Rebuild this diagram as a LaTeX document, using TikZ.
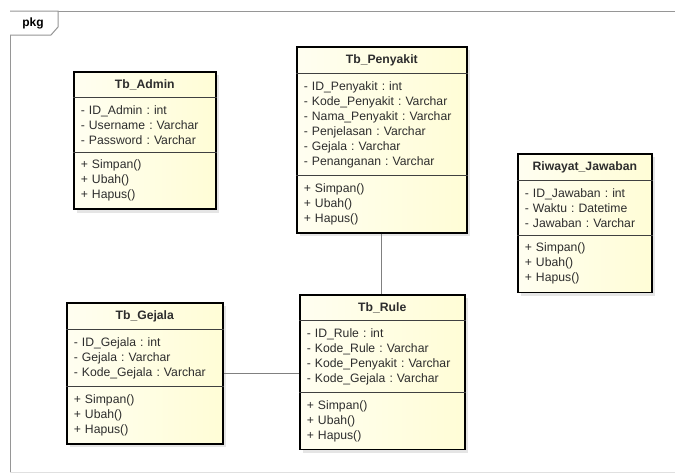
\documentclass[tikz,border=0pt]{standalone}
\usepackage{fontspec}
\setmainfont{Liberation Sans}
\usepackage{tikz}
\usetikzlibrary{shapes.multipart,shadows}

\definecolor{classfill}{RGB}{255,253,214}
\definecolor{framegray}{RGB}{150,150,150}
\definecolor{textgray}{RGB}{45,45,45}

\begin{document}
\frenchspacing
\begin{tikzpicture}[x=1pt, y=-1pt,
	every node/.style={font=\fontsize{12.2}{15}\selectfont, text=textgray},
	umlclass/.style={rectangle split, rectangle split parts=3, rectangle split draw splits=false,
		draw=black, line width=1.6pt, left color=classfill!35, right color=classfill,
		drop shadow={shadow xshift=3.5pt, shadow yshift=-3.5pt, fill=black!20},
		anchor=north west, align=left, inner xsep=7pt, inner ysep=7pt},
	splitline/.style={draw=black!75, line width=0.9pt},
	assoc/.style={draw=black!50, line width=1.3pt}]
	\useasboundingbox (0,0) rectangle (675,474);
	% package frame
	\draw[framegray, line width=1pt] (675,11) -- (10,11) -- (10,472);
	\draw[black!12, line width=1pt] (10,472) -- (675,472);
	\draw[framegray, line width=1pt, fill=white] (10,11) -- (58,11) -- (58,27) -- (51,35) -- (10,35);
	\node[font=\fontsize{12}{14}\selectfont\bfseries, text=black] (pkg) at (33,23) {pkg};

	\node[umlclass, text width=128pt] (admin) at (73,71) {\hfill\textbf{Tb\_Admin}\hfill\null
		\nodepart{second} - ID\_Admin : int\\ - Username : Varchar\\ - Password : Varchar
		\nodepart{third} + Simpan()\\ + Ubah()\\ + Hapus()};
	\node[umlclass, text width=156pt] (penyakit) at (296,46) {\hfill\textbf{Tb\_Penyakit}\hfill\null
		\nodepart{second} - ID\_Penyakit : int\\ - Kode\_Penyakit : Varchar\\ - Nama\_Penyakit : Varchar\\ - Penjelasan : Varchar\\ - Gejala : Varchar\\ - Penanganan : Varchar
		\nodepart{third} + Simpan()\\ + Ubah()\\ + Hapus()};
	\node[umlclass, text width=120pt] (riwayat) at (517,153) {\hfill\textbf{Riwayat\_Jawaban}\hfill\null
		\nodepart{second} - ID\_Jawaban : int\\ - Waktu : Datetime\\ - Jawaban : Varchar
		\nodepart{third} + Simpan()\\ + Ubah()\\ + Hapus()};
	\node[umlclass, text width=142pt] (gejala) at (66,302) {\hfill\textbf{Tb\_Gejala}\hfill\null
		\nodepart{second} - ID\_Gejala : int\\ - Gejala : Varchar\\ - Kode\_Gejala : Varchar
		\nodepart{third} + Simpan()\\ + Ubah()\\ + Hapus()};
	\node[umlclass, text width=151pt] (rule) at (299,294) {\hfill\textbf{Tb\_Rule}\hfill\null
		\nodepart{second} - ID\_Rule : int\\ - Kode\_Rule : Varchar\\ - Kode\_Penyakit : Varchar\\ - Kode\_Gejala : Varchar
		\nodepart{third} + Simpan()\\ + Ubah()\\ + Hapus()};

	\foreach \c in {admin,penyakit,riwayat,gejala,rule} {
		\draw[splitline] (\c.text split west) -- (\c.text split east);
		\draw[splitline] (\c.second split west) -- (\c.second split east);
	}

	\draw[assoc] (penyakit.south) -- (penyakit.south |- rule.north);
	\draw[assoc] (gejala.east) -- (gejala.east -| rule.west);
\end{tikzpicture}
\end{document}
